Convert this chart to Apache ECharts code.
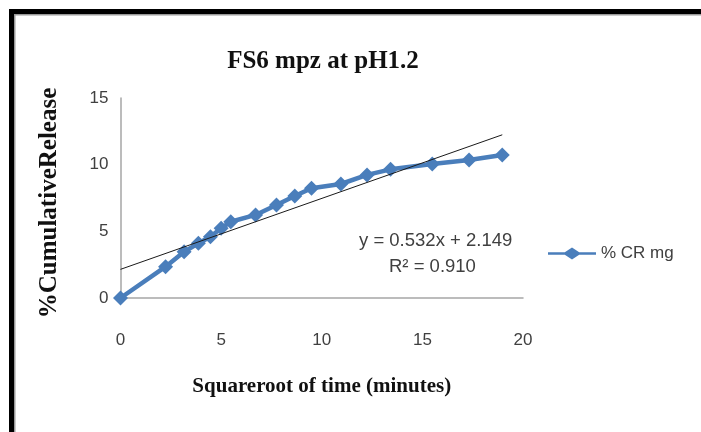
<!DOCTYPE html>
<html>
<head>
<meta charset="utf-8">
<script src="https://cdn.jsdelivr.net/npm/echarts@6/dist/echarts.min.js"></script>
<style>
  html, body { margin: 0; padding: 0; background: #ffffff; }
  #chart { width: 701px; height: 432px; }
</style>
</head>
<body>
<div id="chart"></div>
<script>
// Square root of sampling time (minutes)
const sqrtTime = [0, 2.24, 3.16, 3.87, 4.47, 5.00, 5.48, 6.71, 7.75, 8.66, 9.49, 10.95, 12.25, 13.42, 15.49, 17.32, 18.97];
// % cumulative release
const cumRelease = [0, 2.35, 3.47, 4.10, 4.60, 5.23, 5.72, 6.23, 6.98, 7.65, 8.23, 8.55, 9.23, 9.65, 10.05, 10.35, 10.73];
// Linear fit reported on the chart
const slope = 0.532;
const intercept = 2.149;
const rSquared = '0.910';
const xTicks = [0, 5, 10, 15, 20];
const yTicks = [0, 5, 10, 15];

const seriesName = '% CR mg';
const pts = sqrtTime.map((x, i) => [x, cumRelease[i]]);
const xFirst = sqrtTime[0];
const xLast = sqrtTime[sqrtTime.length - 1];
const fitLine = [[xFirst, slope * xFirst + intercept], [xLast, slope * xLast + intercept]];

const chart = echarts.init(document.getElementById('chart'), null, { renderer: 'canvas' });
const labelFont = '"Liberation Sans Narrow", "Liberation Sans", Arial, sans-serif';
const serifBold = '"Liberation Serif", "DejaVu Serif", serif';

chart.setOption({
  backgroundColor: '#ffffff',
  animation: false,
  title: {
    text: 'FS6 mpz at pH1.2',
    left: 318, top: 44, textAlign: 'center',
    textStyle: { fontFamily: serifBold, fontWeight: 'bold', fontSize: 25, color: '#111111' }
  },
  legend: {
    data: [{ name: seriesName, icon: 'path://M0,4 L14,4 L20,0 L26,4 L40,4 L40,6 L26,6 L20,10 L14,6 L0,6 Z' }],
    left: 543, top: 240, itemWidth: 48, itemHeight: 15, itemGap: 3,
    textStyle: { fontFamily: labelFont, fontSize: 17, color: '#404040' }
  },
  grid: { left: 120.5, right: 178, top: 98, bottom: 134 },
  xAxis: {
    type: 'value', min: xTicks[0], max: xTicks[xTicks.length - 1], interval: 5,
    name: 'Squareroot of time (minutes)', nameLocation: 'middle', nameGap: 78,
    nameTextStyle: { fontFamily: serifBold, fontWeight: 'bold', fontSize: 21, color: '#111111' },
    axisLine: { lineStyle: { color: '#a6a6a6', width: 1.5 } },
    axisTick: { show: false },
    splitLine: { show: false },
    axisLabel: { margin: 34, fontFamily: labelFont, fontSize: 17, color: '#404040' }
  },
  yAxis: {
    type: 'value', min: yTicks[0], max: yTicks[yTicks.length - 1], interval: 5,
    name: '%CumulativeRelease', nameLocation: 'middle', nameGap: 58, nameRotate: 90,
    nameTextStyle: { fontFamily: serifBold, fontWeight: 'bold', fontSize: 25, color: '#111111', padding: [0, 10, 0, 0] },
    axisLine: { show: true, lineStyle: { color: '#a6a6a6', width: 1.5 } },
    axisTick: { show: false },
    splitLine: { show: false },
    axisLabel: { margin: 12, fontFamily: labelFont, fontSize: 17, color: '#404040' }
  },
  series: [
    {
      name: seriesName, type: 'line', data: pts,
      symbol: 'diamond', symbolSize: 15,
      lineStyle: { color: '#4a7ebb', width: 4.5 },
      itemStyle: { color: '#4a7ebb' },
      z: 3
    },
    {
      name: 'fit', type: 'line', data: fitLine,
      symbol: 'none',
      lineStyle: { color: '#1a1a1a', width: 1 },
      z: 4
    }
  ],
  graphic: [
    { type: 'text', left: 359, top: 231,
      style: { text: 'y = ' + slope.toFixed(3) + 'x + ' + intercept.toFixed(3),
        font: '18.5px ' + labelFont, fill: '#404040' } },
    { type: 'text', left: 389, top: 257,
      style: { text: 'R² = ' + rSquared, font: '18.5px ' + labelFont, fill: '#404040' } },
    // frame edges
    { type: 'rect', shape: { x: 9, y: 9, width: 692, height: 5 }, style: { fill: '#000000' } },
    { type: 'rect', shape: { x: 9, y: 9, width: 5, height: 423 }, style: { fill: '#000000' } },
    { type: 'rect', shape: { x: 14, y: 14, width: 687, height: 1.5 }, style: { fill: '#9a9a9a' } },
    { type: 'rect', shape: { x: 14, y: 14, width: 1.5, height: 418 }, style: { fill: '#9a9a9a' } }
  ]
});
</script>
</body>
</html>
